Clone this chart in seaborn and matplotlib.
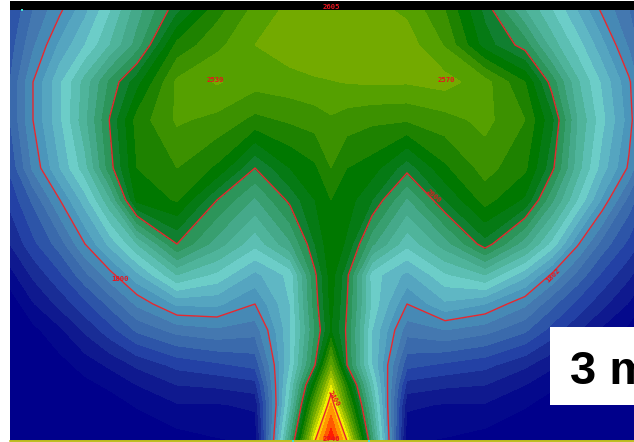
import numpy as np
import matplotlib
matplotlib.use("Agg")
import matplotlib.pyplot as plt
from matplotlib.patches import Rectangle
import seaborn as sns

# mesh (pixel-like units), values are the colour band number
x_cols = [10, 33, 60, 85, 110, 137, 177, 217, 255, 290, 315, 331, 347, 372, 407, 445, 485, 525, 552, 577, 602, 629, 652]
y_rows = [10, 45, 82, 120, 168, 200, 244, 275, 304, 330, 365, 385, 405, 441]

row_010 = [4, 6, 7.8, 9.7, 11.9, 14.5, 17.7, 20.6, 22.3, 23.3, 23.6, 23.7, 23.6, 23.3, 22.8, 21, 17.7, 14, 12, 10, 7.8, 6, 4]
row_045 = [4.5, 6.8, 9.2, 11, 13, 15.4, 20.3, 21.7, 23, 23.6, 23.8, 23.8, 23.8, 23.7, 23.5, 21.9, 18.5, 16.5, 13.5, 11.5, 9.3, 6.8, 4.5]
row_082 = [5, 8, 10.8, 13.4, 16.2, 18.6, 22.2, 23.1, 22.4, 22.6, 22.85, 22.95, 23.05, 23.15, 23.1, 23.4, 22.4, 20, 16.5, 13.2, 10.8, 8.2, 5]
row_120 = [5, 8, 10.8, 13.7, 17.1, 20.4, 22.15, 21.7, 20.7, 21.15, 21.45, 21.85, 21.5, 21.2, 21.1, 21.6, 22.3, 21, 18.2, 14, 11.3, 8.5, 5]
row_168 = [4.2, 7.2, 10, 12.6, 16.6, 20, 21, 19.8, 17, 19, 19.8, 21, 20, 19.5, 17.4, 19.8, 21.4, 20.2, 17.3, 13.5, 10.5, 7.8, 4.2]
row_200 = [3.3, 5.2, 8, 10.5, 13.8, 19.3, 20.1, 17, 14.8, 17.3, 19, 20, 19.5, 18, 14.8, 18, 20.4, 18.8, 15.2, 12, 8.8, 5.6, 3.3]
row_244 = [2, 3.7, 5.5, 8, 10.3, 13, 17, 14.5, 12.3, 14.8, 18, 19.8, 18.8, 15.2, 12.3, 14.5, 17.6, 14.4, 11.6, 8.2, 5.6, 3.7, 2]
row_275 = [0.6, 2.2, 3.8, 5.7, 7.6, 9.7, 13, 11.7, 9.7, 11.3, 16.8, 19.5, 17.3, 11.5, 9.7, 11.8, 13, 10.3, 7.8, 5.7, 3.8, 2.2, 0.6]
row_304 = [-0.7, 0.9, 2.3, 3.7, 5.3, 7.2, 9.2, 9.2, 8, 11, 16.5, 19.3, 17, 11.7, 8, 9.8, 9, 7.2, 5.3, 3.7, 2.3, 0.9, -0.7]
row_330 = [-1, -0.3, 0.8, 2.2, 3.6, 5.2, 6.4, 6.8, 6.4, 10.8, 16, 19, 16.8, 11, 6.4, 7, 6.4, 5.2, 3.6, 2.2, 0.8, -0.3, -1]
row_365 = [-1, -1, -0.4, 0.4, 1.2, 2.2, 3.3, 3.8, 4.3, 11, 17, 23, 17, 11, 4.3, 3.8, 3.3, 2.2, 1.2, 0.4, -0.4, -1, -1]
row_385 = [-1, -1, -1, -0.3, 0.2, 1, 2, 2.2, 2.6, 11.8, 20, 26, 20, 12.3, 2.6, 2.2, 2, 1, 0.2, -0.3, -1, -1, -1]
row_405 = [-1, -1, -1, -1, -0.5, 0.1, 0.9, 0.9, 1.2, 12.5, 22.5, 28.2, 22, 13.5, 1.2, 0.9, 0.9, 0.1, -0.5, -1, -1, -1, -1]
row_441 = [-1, -1, -1, -1, -1, -1, -0.5, -0.1, 0.1, 15, 27, 31, 27, 15.5, 0.1, -0.1, -0.5, -1, -1, -1, -1, -1, -1]

band_edges = [-2] + list(range(0, 32))
band_colors = ["#00008b", "#04098c", "#0f198f", "#192d96", "#2341a5", "#2d55a8", "#3a6aac", "#4478b0", "#4689b5",
               "#4b96bb", "#55a5c0", "#5fb7c4", "#6ccdc8", "#5cbfb3", "#4fb49b", "#45a98a", "#389f70", "#2c955a",
               "#107f30", "#057a14", "#007800", "#1e8200", "#3c9100", "#55a000", "#73aa00",
               "#96be00", "#bed200", "#f0f000", "#ffc800", "#ff9600", "#ff5a00", "#ff1e00"]
line_levels = [8, 17, 27]

label_text = ["2605", "2530", "2570", "1800", "1802", "2000", "2400", "2746"]
label_x = [331, 215, 446, 120, 553, 434, 334, 331]
label_y = [7, 80, 80, 279, 275, 196, 399, 439]
label_rot = [0, 0, 0, 0, 45, -40, -60, 0]

tick_x = [22, 293, 369]
tick_y = [9.5, 440.5, 440.5]

sns.set_theme(style="white")
palette = sns.color_palette(band_colors)

field = np.array([row_010, row_045, row_082, row_120, row_168, row_200, row_244,
                  row_275, row_304, row_330, row_365, row_385, row_405, row_441])

fig = plt.figure(figsize=(6.34, 4.42), dpi=100)
ax = fig.add_axes([0, 0, 1, 1])
ax.contourf(x_cols, y_rows, field, levels=band_edges, colors=palette, antialiased=False)
ax.contour(x_cols, y_rows, field, levels=line_levels, colors="#e6282f", linewidths=1.0)

ax.add_patch(Rectangle((10, 1), 624, 9, color="black", lw=0, zorder=3))
ax.plot([10, 634], [440.5, 440.5], color="#bebe1e", lw=1.4, zorder=3)
ax.scatter(tick_x, tick_y, s=1.5, color="#40e0d0", linewidths=0, marker="s", zorder=4)

for t, x, y, r in zip(label_text, label_x, label_y, label_rot):
    ax.text(x, y, t, color="#e8141e", fontsize=5.2, family="DejaVu Sans Mono", weight="bold",
            ha="center", va="center", rotation=r, zorder=4)

ax.add_patch(Rectangle((550, 327), 84, 78, color="white", lw=0, zorder=5))
ax.text(570, 384, "3 mm", color="black", fontsize=34, family="Liberation Sans", weight="bold",
        ha="left", va="baseline", zorder=6, clip_on=True)

ax.set_xlim(0, 634)
ax.set_ylim(442, 0)
ax.axis("off")

fig.savefig("out.png", dpi=100, facecolor="white")
plt.close(fig)
